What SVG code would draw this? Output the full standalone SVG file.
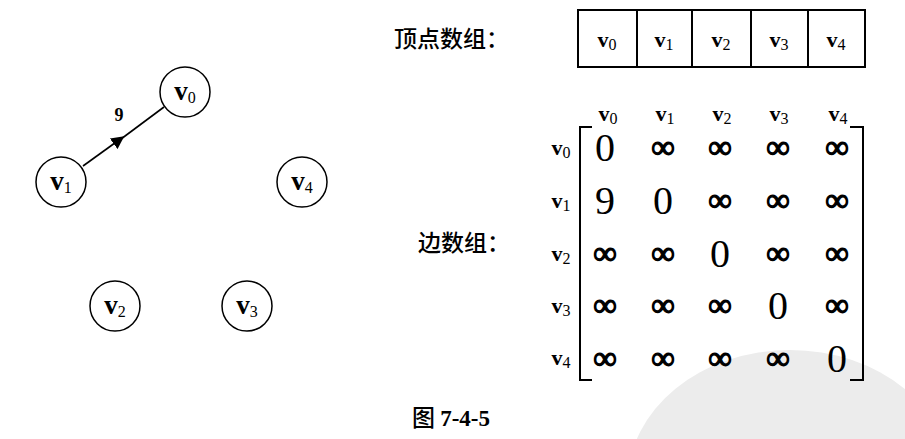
<svg xmlns="http://www.w3.org/2000/svg" width="905" height="439" viewBox="0 0 905 439">
<defs>
<style>
.n{fill:#fff;stroke:#000;stroke-width:1.5}
.t{font-family:"Liberation Serif","Times New Roman",serif;fill:#000}
.nl{font-size:27px;text-anchor:middle;font-weight:bold}
.sub{font-size:16px;font-weight:normal}
.cj{font-family:"Noto Sans CJK SC","Liberation Sans",sans-serif;font-size:23px;fill:#000;font-weight:500}
.z{font-size:40px;text-anchor:middle}
.inf{font-size:33px;text-anchor:middle;stroke:#000;stroke-width:1.3}
.h{font-size:22px;text-anchor:middle;font-weight:bold}
.cell{fill:none;stroke:#000;stroke-width:2}
.br{fill:none;stroke:#000;stroke-width:2}
</style>
<marker id="ar" viewBox="0 0 10 10" refX="5" refY="5" markerWidth="13" markerHeight="13" markerUnits="userSpaceOnUse" orient="auto">
<path d="M0,0 L10,5 L0,10 z" fill="#000"/>
</marker>
</defs>
<rect width="905" height="439" fill="#fff"/>
<ellipse cx="790" cy="482" rx="162" ry="132" fill="#ececec"/>
<g id="edges">
<path d="M83,166 L119,140" stroke="#000" stroke-width="1.6" fill="none" marker-end="url(#ar)"/>
<path d="M117,142 L164,107" stroke="#000" stroke-width="1.6" fill="none"/>
<text class="t" x="119" y="121" font-size="18" font-weight="bold" text-anchor="middle">9</text>
</g>
<g id="v0"><circle class="n" cx="185" cy="92" r="25"/><text class="t nl" x="185" y="100">v<tspan class="sub" dy="3">0</tspan></text></g>
<g id="v1"><circle class="n" cx="61" cy="182" r="25"/><text class="t nl" x="61" y="190">v<tspan class="sub" dy="3">1</tspan></text></g>
<g id="v4"><circle class="n" cx="302" cy="182" r="25"/><text class="t nl" x="302" y="190">v<tspan class="sub" dy="3">4</tspan></text></g>
<g id="v2"><circle class="n" cx="115" cy="306" r="25"/><text class="t nl" x="115" y="314">v<tspan class="sub" dy="3">2</tspan></text></g>
<g id="v3"><circle class="n" cx="247" cy="306" r="25"/><text class="t nl" x="247" y="314">v<tspan class="sub" dy="3">3</tspan></text></g>

<g id="vertex-array">
<text class="cj" x="394" y="47">顶点数组：</text>
<rect class="cell" x="578" y="10" width="287" height="57"/>
<path class="cell" d="M637,10V67M692,10V67M751,10V67M808,10V67"/>
<text class="t h" font-size="24" x="607" y="47">v<tspan class="sub" dy="3">0</tspan></text>
<text class="t h" font-size="24" x="664" y="47">v<tspan class="sub" dy="3">1</tspan></text>
<text class="t h" font-size="24" x="721" y="47">v<tspan class="sub" dy="3">2</tspan></text>
<text class="t h" font-size="24" x="779" y="47">v<tspan class="sub" dy="3">3</tspan></text>
<text class="t h" font-size="24" x="836" y="47">v<tspan class="sub" dy="3">4</tspan></text>
</g>

<g id="edge-array">
<text class="cj" x="418" y="251">边数组：</text>
<g class="t h">
<text x="608" y="121">v<tspan class="sub" dy="3">0</tspan></text>
<text x="665" y="121">v<tspan class="sub" dy="3">1</tspan></text>
<text x="722" y="121">v<tspan class="sub" dy="3">2</tspan></text>
<text x="779" y="121">v<tspan class="sub" dy="3">3</tspan></text>
<text x="838" y="121">v<tspan class="sub" dy="3">4</tspan></text>
<text x="561" y="155">v<tspan class="sub" dy="3">0</tspan></text>
<text x="561" y="208">v<tspan class="sub" dy="3">1</tspan></text>
<text x="561" y="261">v<tspan class="sub" dy="3">2</tspan></text>
<text x="561" y="313">v<tspan class="sub" dy="3">3</tspan></text>
<text x="561" y="365">v<tspan class="sub" dy="3">4</tspan></text>
</g>
<path class="br" d="M592,127H580V380H592"/>
<path class="br" d="M850,127H863V380H850"/>
<g class="t">
<text class="z" x="605" y="161">0</text>
<text class="inf" x="663" y="158">∞</text>
<text class="inf" x="720" y="158">∞</text>
<text class="inf" x="778" y="158">∞</text>
<text class="inf" x="837" y="158">∞</text>
<text class="z" x="605" y="214">9</text>
<text class="z" x="663" y="214">0</text>
<text class="inf" x="720" y="211">∞</text>
<text class="inf" x="778" y="211">∞</text>
<text class="inf" x="837" y="211">∞</text>
<text class="inf" x="605" y="264">∞</text>
<text class="inf" x="663" y="264">∞</text>
<text class="z" x="720" y="267">0</text>
<text class="inf" x="778" y="264">∞</text>
<text class="inf" x="837" y="264">∞</text>
<text class="inf" x="605" y="316">∞</text>
<text class="inf" x="663" y="316">∞</text>
<text class="inf" x="720" y="316">∞</text>
<text class="z" x="778" y="319">0</text>
<text class="inf" x="837" y="316">∞</text>
<text class="inf" x="605" y="369">∞</text>
<text class="inf" x="663" y="369">∞</text>
<text class="inf" x="720" y="369">∞</text>
<text class="inf" x="778" y="369">∞</text>
<text class="z" x="837" y="372">0</text>
</g>
</g>
<text class="cj" x="412" y="426" font-size="16">图 <tspan font-family="Liberation Serif, serif" font-weight="bold">7-4-5</tspan></text>
</svg>
